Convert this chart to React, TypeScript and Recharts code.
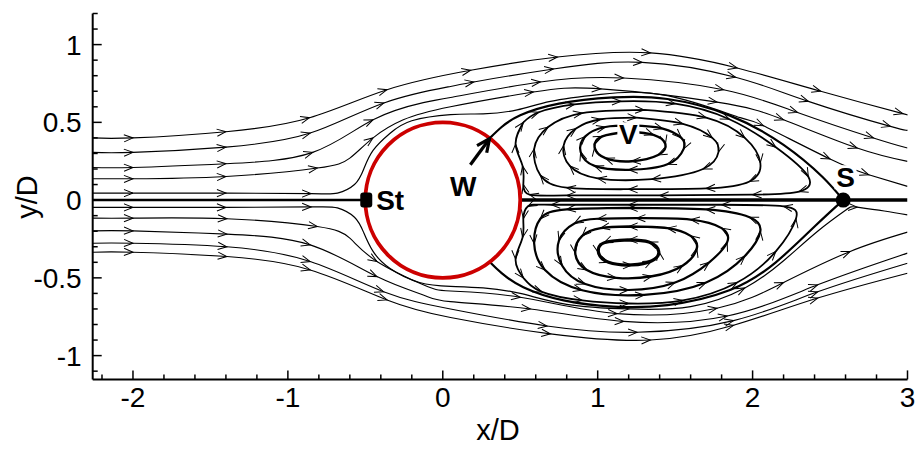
import React from 'react';
import { ComposedChart, Line, Scatter, XAxis, YAxis } from 'recharts';

// chart box and plot frame (page px, body margin removed)
const W = 920;
const H = 451;
const PLOT = { left: 92.7, top: 13.5, right: 907.5, bottom: 379.4 };
const X_DOMAIN: [number, number] = [-2.26, 3];
const Y_DOMAIN: [number, number] = [-1.153, 1.2];
const SX = (PLOT.right - PLOT.left) / (X_DOMAIN[1] - X_DOMAIN[0]);
const SY = (PLOT.bottom - PLOT.top) / (Y_DOMAIN[1] - Y_DOMAIN[0]);
const FONT = '"Liberation Sans", Arial, Helvetica, sans-serif';

const X_TICKS = [-2.2, -2, -1.8, -1.6, -1.4, -1.2, -1, -0.8, -0.6, -0.4, -0.2, 0, 0.2, 0.4, 0.6, 0.8, 1, 1.2, 1.4, 1.6, 1.8, 2, 2.2, 2.4, 2.6, 2.8, 3];
const Y_TICKS = [-1.1, -1, -0.9, -0.8, -0.7, -0.6, -0.5, -0.4, -0.3, -0.2, -0.1, 0, 0.1, 0.2, 0.3, 0.4, 0.5, 0.6, 0.7, 0.8, 0.9, 1, 1.1, 1.2];

// streamlines: [x/D, y/D, arrow?]
type P = [number, number, number?];

// upper outer streamlines
const U1: P[] = [[-2.26, 0.40], [-2.0, 0.40, 1], [-1.4, 0.44, 1], [-0.86, 0.53, 1], [-0.36, 0.71, 1], [0.18, 0.835, 1], [0.74, 0.92, 1], [1.34, 0.947, 1], [1.9, 0.85, 1], [2.44, 0.70, 1], [2.97, 0.556, 1], [3.0, 0.55]];
const U2: P[] = [[-2.26, 0.307], [-2.0, 0.307, 1], [-1.4, 0.341, 1], [-0.856, 0.431, 1], [-0.38, 0.625, 1], [0.05, 0.731], [0.2, 0.76, 1], [0.714, 0.843, 1], [1.287, 0.886, 1], [1.89, 0.79, 1], [2.36, 0.635, 1], [2.89, 0.474, 1], [3.0, 0.452]];
const U3: P[] = [[-2.26, 0.21], [-2.0, 0.21, 1], [-1.4, 0.234, 1], [-0.84, 0.307, 1], [-0.45, 0.517, 1], [-0.126, 0.627], [0.05, 0.66], [0.63, 0.76, 1], [1.166, 0.785, 1], [1.812, 0.71, 1], [2.29, 0.564, 1], [2.78, 0.40, 1], [3.0, 0.335]];
const U4: P[] = [[-2.26, 0.137], [-2.0, 0.137, 1], [-1.4, 0.152, 1], [-0.81, 0.206, 1], [-0.6, 0.27], [-0.45, 0.40, 1], [-0.255, 0.516], [0.05, 0.60], [0.585, 0.695, 1], [1.02, 0.715, 1], [1.77, 0.63, 1], [2.2, 0.517, 1], [2.675, 0.335, 1], [3.0, 0.249]];
const U5: P[] = [[-2.26, 0.045], [-2.0, 0.045, 1], [-1.4, 0.045, 1], [-0.85, 0.042, 1], [-0.68, 0.045], [-0.57, 0.1], [-0.51, 0.2], [-0.45, 0.32], [-0.34, 0.43], [-0.2, 0.51], [0.05, 0.55], [0.26, 0.555], [0.48, 0.58], [0.695, 0.635], [1.02, 0.68], [1.45, 0.672], [1.92, 0.53], [2.07, 0.478, 1], [2.5, 0.264, 1], [2.75, 0.163, 1], [3.0, 0.088]];

// lower outer streamlines
const L1: P[] = [[-2.26, -0.047], [-2.0, -0.047, 1], [-1.4, -0.047, 1], [-0.85, -0.044, 1], [-0.68, -0.05], [-0.57, -0.11], [-0.51, -0.21], [-0.45, -0.33], [-0.34, -0.44], [-0.15, -0.53], [0.05, -0.555], [0.26, -0.565], [0.5, -0.60], [0.8, -0.67], [1.2, -0.70, 1], [1.6, -0.685], [1.95, -0.565, 1], [2.2, -0.39], [2.42, -0.20], [2.6, -0.065], [2.675, -0.045, 1], [2.85, -0.07], [3.0, -0.095]];
const L2: P[] = [[-2.26, -0.116], [-2.0, -0.116, 1], [-1.394, -0.12, 1], [-0.81, -0.17, 1], [-0.6, -0.245], [-0.425, -0.395, 1], [-0.126, -0.545], [0.05, -0.585], [0.5, -0.625, 1], [1.125, -0.73, 1], [1.77, -0.695, 1], [2.2, -0.53, 1], [2.63, -0.33, 1], [3.0, -0.206]];
const L3: P[] = [[-2.26, -0.198], [-2.0, -0.198, 1], [-1.394, -0.219, 1], [-0.856, -0.288, 1], [-0.425, -0.492, 1], [-0.126, -0.61], [0.05, -0.653], [0.565, -0.70, 1], [1.168, -0.78, 1], [1.836, -0.745, 1], [2.42, -0.545, 1], [3.0, -0.341]];
const L4: P[] = [[-2.26, -0.277], [-2.0, -0.277, 1], [-1.394, -0.30, 1], [-0.856, -0.395, 1], [-0.382, -0.589, 1], [0.05, -0.70], [0.673, -0.81, 1], [1.255, -0.85, 1], [1.877, -0.775, 1], [2.42, -0.59, 1], [3.0, -0.406]];
const L5: P[] = [[-2.26, -0.335], [-2.0, -0.335, 1], [-1.394, -0.363, 1], [-0.856, -0.449, 1], [-0.36, -0.642, 1], [0.05, -0.755], [0.695, -0.86, 1], [1.34, -0.90, 1], [1.877, -0.805, 1], [2.42, -0.63, 1], [3.0, -0.47]];

// dividing streamlines (cylinder -> S) and centre lines
const SEP_UP: P[] = [[0.305, 0.40], [0.38, 0.47], [0.50, 0.545], [0.75, 0.62], [1.10, 0.66], [1.45, 0.65], [1.85, 0.545], [2.2, 0.355], [2.45, 0.15], [2.585, 0.0]];
const SEP_LO: P[] = [[0.305, -0.40], [0.38, -0.47], [0.52, -0.56], [0.78, -0.645], [1.10, -0.685], [1.45, -0.675], [1.85, -0.58], [2.15, -0.40], [2.40, -0.17], [2.585, 0.0]];
const AXIS_FRONT: P[] = [[-2.26, 0], [-0.5, 0]];
const AXIS_WAKE: P[] = [[0.5, 0], [3.0, 0]];

// recirculation loops, upper bubble (clockwise)
const B0: P[] = [[0.52, 0.50], [0.62, 0.565], [0.85, 0.615], [1.15, 0.635], [1.5, 0.62], [1.85, 0.52], [2.15, 0.34], [2.36, 0.15], [2.30, 0.055], [2.0, 0.035], [1.4, 0.03], [0.8, 0.03], [0.56, 0.035], [0.52, 0.10], [0.515, 0.22], [0.47, 0.36], [0.52, 0.50]];
const B1: P[] = [[1.3, 0.58], [1.7, 0.53], [1.95, 0.40], [2.05, 0.24], [1.98, 0.12], [1.7, 0.075], [1.2, 0.07], [0.8, 0.08], [0.63, 0.16], [0.59, 0.33], [0.68, 0.47], [0.9, 0.56], [1.3, 0.58]];
const B2: P[] = [[1.25, 0.53], [1.55, 0.49], [1.74, 0.40], [1.78, 0.31], [1.68, 0.20], [1.35, 0.135], [1.0, 0.14], [0.82, 0.22], [0.78, 0.35], [0.86, 0.46], [1.02, 0.52], [1.25, 0.53]];
const B3: P[] = [[1.22, 0.48], [1.42, 0.46], [1.54, 0.40], [1.555, 0.33], [1.45, 0.23], [1.2, 0.195], [0.98, 0.22], [0.89, 0.31], [0.92, 0.41], [1.05, 0.47], [1.22, 0.48]];
const B4: P[] = [[1.2, 0.44], [1.36, 0.42], [1.437, 0.36], [1.39, 0.29], [1.22, 0.25], [1.05, 0.27], [0.98, 0.34], [1.03, 0.41], [1.2, 0.44]];

// recirculation loops, lower bubble (counter-clockwise)
const C1: P[] = [[0.52, -0.50], [0.64, -0.59], [0.9, -0.645], [1.2, -0.665], [1.55, -0.645], [1.9, -0.53], [2.15, -0.33], [2.28, -0.12], [2.2, -0.04], [1.8, -0.03], [1.2, -0.03], [0.7, -0.03], [0.55, -0.04], [0.52, -0.12], [0.515, -0.24], [0.47, -0.38], [0.52, -0.50]];
const C2: P[] = [[1.2, -0.05], [0.8, -0.06], [0.63, -0.12], [0.59, -0.28], [0.66, -0.45], [0.9, -0.58], [1.3, -0.61], [1.7, -0.53], [1.95, -0.36], [2.05, -0.20], [1.98, -0.11], [1.7, -0.06], [1.2, -0.05]];
const C3: P[] = [[1.25, -0.116], [1.0, -0.12], [0.85, -0.15], [0.75, -0.26], [0.77, -0.42], [0.92, -0.54], [1.2, -0.578], [1.5, -0.53], [1.72, -0.40], [1.836, -0.27], [1.8, -0.18], [1.6, -0.125], [1.25, -0.116]];
const C4: P[] = [[1.2, -0.17], [1.02, -0.18], [0.9, -0.23], [0.855, -0.34], [0.93, -0.45], [1.12, -0.50], [1.35, -0.49], [1.55, -0.42], [1.64, -0.31], [1.6, -0.23], [1.45, -0.18], [1.2, -0.17]];
const C5: P[] = [[1.2, -0.256], [1.04, -0.275], [1.006, -0.34], [1.07, -0.40], [1.22, -0.417], [1.35, -0.39], [1.394, -0.33], [1.33, -0.27], [1.2, -0.256]];

// annotations
const MARKS = [
  { x: 0, y: 0, kind: 'cylinder' },
  { x: -0.494, y: 0, kind: 'stag' },
  { x: 2.585, y: 0, kind: 'saddle' },
  { x: -0.43, y: 0, kind: 'text', text: 'St', anchor: 'start' },
  { x: 0.132, y: 0.092, kind: 'text', text: 'W', anchor: 'middle' },
  { x: 1.198, y: 0.423, kind: 'boxed', text: 'V', anchor: 'middle' },
  { x: 2.60, y: 0.147, kind: 'boxed', text: 'S', anchor: 'middle' },
  { x: 0.178, y: 0.227, kind: 'pointer', x2: 0.302, y2: 0.395 },
];

type Series = { name: string; pts: P[]; w: number; closed?: boolean; allArrows?: boolean };
const SERIES: Series[] = [
  { name: 'u1', pts: U1, w: 1.1 }, { name: 'u2', pts: U2, w: 1.1 }, { name: 'u3', pts: U3, w: 1.1 },
  { name: 'u4', pts: U4, w: 1.1 }, { name: 'u5', pts: U5, w: 1.2 },
  { name: 'l1', pts: L1, w: 1.2 }, { name: 'l2', pts: L2, w: 1.1 }, { name: 'l3', pts: L3, w: 1.1 },
  { name: 'l4', pts: L4, w: 1.1 }, { name: 'l5', pts: L5, w: 1.1 },
  { name: 'b0', pts: B0, w: 1.8, closed: true, allArrows: true },
  { name: 'b1', pts: B1, w: 1.8, closed: true, allArrows: true },
  { name: 'b2', pts: B2, w: 1.8, closed: true, allArrows: true },
  { name: 'b3', pts: B3, w: 2.2, closed: true, allArrows: true },
  { name: 'b4', pts: B4, w: 2.4, closed: true, allArrows: true },
  { name: 'c1', pts: C1, w: 1.8, closed: true, allArrows: true },
  { name: 'c2', pts: C2, w: 2.2, closed: true, allArrows: true },
  { name: 'c3', pts: C3, w: 2.2, closed: true, allArrows: true },
  { name: 'c4', pts: C4, w: 2.4, closed: true, allArrows: true },
  { name: 'c5', pts: C5, w: 3.2, closed: true, allArrows: true },
  { name: 'sepu', pts: SEP_UP, w: 2.2 },
  { name: 'sepl', pts: SEP_LO, w: 2.2 },
  { name: 'front', pts: AXIS_FRONT, w: 2.5 },
  { name: 'wake', pts: AXIS_WAKE, w: 3.5 },
];

const chevron = (cx: number, cy: number, ang: number, len: number, half: number, sw: number, key: string) => (
  <path
    key={key}
    d={`M ${-len} ${-half} L 0 0 L ${-len} ${half}`}
    transform={`translate(${cx},${cy}) rotate(${ang})`}
    fill="none"
    stroke="#000"
    strokeWidth={sw}
  />
);

const makeDot = (s: Series) => (props: any) => {
  const { cx, cy, index } = props;
  const key = `${s.name}-${index}`;
  const p = s.pts[index];
  const n = s.pts.length;
  const want = s.allArrows ? index < n - 1 : !!(p && p[2]);
  if (!p || !want || cx == null || cy == null) return <g key={key} />;
  const prev = s.pts[index - 1] ?? (s.closed ? s.pts[n - 2] : p);
  const next = s.pts[index + 1] ?? (s.closed ? s.pts[1] : p);
  const ang = (Math.atan2(-(next[1] - prev[1]) * SY, (next[0] - prev[0]) * SX) * 180) / Math.PI;
  return chevron(cx, cy, ang, 9, 3.6, 1, key);
};

const fmt = (v: number) => String(Math.round(v * 10) / 10);

const XTick = (props: any) => {
  const { x, y, payload } = props;
  const v = payload.value;
  const major = Math.abs(v - Math.round(v)) < 1e-6;
  return (
    <g>
      <line x1={x} x2={x} y1={y} y2={y - (major ? 9 : 5)} stroke="#000" strokeWidth={1.5} />
      {major && (
        <text x={x} y={y + 28} textAnchor="middle" fontSize={28} fontFamily={FONT} fill="#000">
          {fmt(v)}
        </text>
      )}
    </g>
  );
};

const YTick = (props: any) => {
  const { x, y, payload } = props;
  const v = payload.value;
  const major = Math.abs(v * 2 - Math.round(v * 2)) < 1e-6;
  return (
    <g>
      <line x1={x} x2={x + (major ? 9 : 5)} y1={y} y2={y} stroke="#000" strokeWidth={1.5} />
      {major && (
        <text x={x - 11} y={y + 10} textAnchor="end" fontSize={28} fontFamily={FONT} fill="#000">
          {fmt(v)}
        </text>
      )}
    </g>
  );
};

const renderMark = (props: any) => {
  const { cx, cy, payload } = props;
  const bold = { fontSize: 28, fontWeight: 700, fontFamily: FONT, fill: '#000' };
  switch (payload.kind) {
    case 'cylinder':
      return <ellipse cx={cx} cy={cy} rx={0.5 * SX} ry={0.5 * SY} fill="#fff" stroke="#cc0000" strokeWidth={3.8} />;
    case 'stag':
      return <rect x={cx - 6} y={cy - 7.5} width={12} height={15} rx={3} fill="#000" />;
    case 'saddle':
      return <circle cx={cx} cy={cy} r={7.5} fill="#000" />;
    case 'text':
      return (
        <text x={cx} y={cy} dy="0.36em" textAnchor={payload.anchor} {...bold}>
          {payload.text}
        </text>
      );
    case 'boxed':
      return (
        <g>
          <rect x={cx - 11} y={cy - 12} width={22} height={24} fill="#fff" />
          <text x={cx} y={cy} dy="0.36em" textAnchor="middle" {...bold}>
            {payload.text}
          </text>
        </g>
      );
    case 'pointer': {
      const tx = cx + (payload.x2 - payload.x) * SX;
      const ty = cy - (payload.y2 - payload.y) * SY;
      const ang = (Math.atan2(ty - cy, tx - cx) * 180) / Math.PI;
      return (
        <g>
          <line x1={cx} y1={cy} x2={tx} y2={ty} stroke="#000" strokeWidth={3.2} />
          {chevron(tx, ty, ang, 13, 6, 3.2, 'tip')}
        </g>
      );
    }
    default:
      return <g />;
  }
};

const XTitle = () => (
  <text x={498} y={440} textAnchor="middle" fontSize={29} fontFamily={FONT} fill="#000">
    x/D
  </text>
);

const YTitle = () => (
  <text x={27} y={197} transform="rotate(-90 27 197)" textAnchor="middle" dominantBaseline="central" fontSize={29} fontFamily={FONT} fill="#000">
    y/D
  </text>
);

export default function App() {
  return (
    <div style={{ width: W, height: H, fontFamily: FONT }}>
      <style>{'body{margin:0;overflow:hidden}'}</style>
      <ComposedChart width={W} height={H} margin={{ top: PLOT.top, right: W - PLOT.right, bottom: 0, left: 0 }}>
        <XAxis
          type="number"
          dataKey="x"
          domain={X_DOMAIN}
          allowDataOverflow
          ticks={X_TICKS}
          interval={0}
          tickSize={0}
          tickMargin={0}
          tickLine={false}
          tick={(p: any) => <XTick {...p} />}
          axisLine={{ stroke: '#000', strokeWidth: 2 }}
          height={H - PLOT.bottom}
          label={() => <XTitle />}
        />
        <YAxis
          type="number"
          dataKey="y"
          domain={Y_DOMAIN}
          allowDataOverflow
          ticks={Y_TICKS}
          interval={0}
          tickSize={0}
          tickMargin={0}
          tickLine={false}
          tick={(p: any) => <YTick {...p} />}
          axisLine={{ stroke: '#000', strokeWidth: 2 }}
          width={PLOT.left}
          label={() => <YTitle />}
        />
        {SERIES.map((s) => (
          <Line
            key={s.name}
            data={s.pts.map((p) => ({ x: p[0], y: p[1] }))}
            dataKey="y"
            type="natural"
            stroke="#000"
            strokeWidth={s.w}
            dot={makeDot(s)}
            activeDot={false}
            isAnimationActive={false}
            legendType="none"
          />
        ))}
        <Scatter data={MARKS} dataKey="y" shape={renderMark} isAnimationActive={false} />
      </ComposedChart>
    </div>
  );
}
